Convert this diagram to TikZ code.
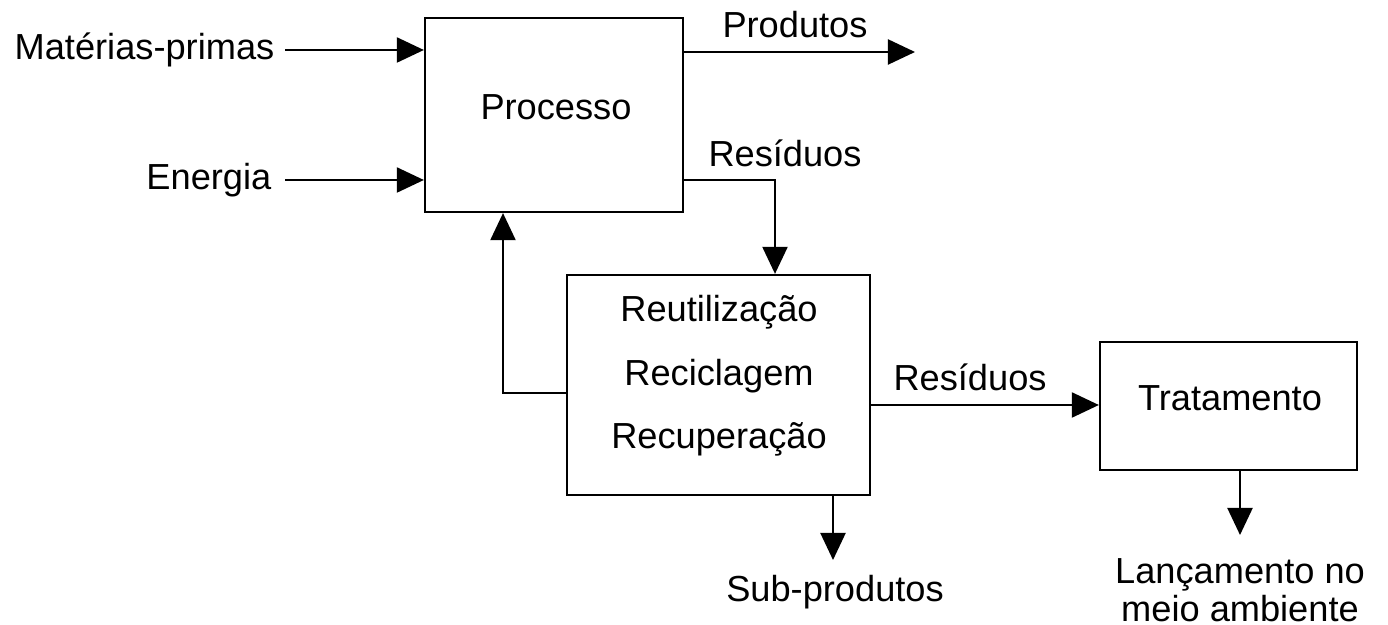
\documentclass[tikz,border=0pt]{standalone}
\usepackage{fontspec}
\setmainfont{Liberation Sans}
\usetikzlibrary{arrows.meta}
\tikzset{
	block/.style = {shape=rectangle, draw, line width=0.6pt, inner sep=0pt},
	tag/.style   = {align=center, inner sep=0pt},
	flow/.style  = {draw, line width=0.6pt, -{Triangle[length=0.27cm, width=0.25cm]}},
	link/.style  = {draw, line width=0.6pt}
}
\begin{document}
\begin{tikzpicture}
[
x                 = 0.01cm,
y                 = -0.01cm,
every node/.style = {font=\fontsize{10.3}{18}\selectfont}
]
\useasboundingbox (0,0) rectangle (1388,625);
% blocks
\node [block, minimum width=2.58cm, minimum height=1.94cm] (proc) at (554,115) {};
\node [block, minimum width=3.03cm, minimum height=2.20cm] (reuse) at (718.5,385) {};
\node [block, minimum width=2.57cm, minimum height=1.28cm] (trat) at (1228.5,406) {};
\node [tag] (proctxt) at (556,107) {Processo};
\node [tag] (reusetxt) at (719,376) {Reutilização\\Reciclagem\\Recuperação};
\node [tag] (trattxt) at (1230,398) {Tratamento};
% labels
\node [tag, anchor=east] (mat) at (275,50) {Matérias-primas};
\node [tag, anchor=east] (ener) at (272,180) {Energia};
\node [tag] (prod) at (795,25) {Produtos};
\node [tag] (res1) at (785,153) {Resíduos};
\node [tag] (res2) at (970,377) {Resíduos};
\node [tag] (sub) at (835,592) {Sub-produtos};
\node [tag, font=\fontsize{10.3}{9.4}\selectfont] (lanc) at (1240,590) {Lançamento no\\meio ambiente};
\coordinate (prodend) at (915,52);
\coordinate (subend) at (833,560);
\coordinate (lancend) at (1240,535);
% connectors
\draw [flow] ([xshift=0.1cm]mat.east) -- (proc.west |- mat.east);
\draw [flow] ([xshift=0.13cm]ener.east) -- (proc.west |- ener.east);
\draw [flow] (proc.east |- prodend) -- (prodend);
\draw [flow] (proc.east |- 0,180) -| (775,0 |- reuse.north);
\draw [flow] (reuse.west |- 0,393) -| (503,0 |- proc.south);
\draw [flow] (reuse.east |- 0,405) -- (trat.west |- 0,405);
\draw [flow] (reuse.south -| subend) -- (subend);
\draw [flow] (trat.south -| lancend) -- (lancend);
\end{tikzpicture}
\end{document}
